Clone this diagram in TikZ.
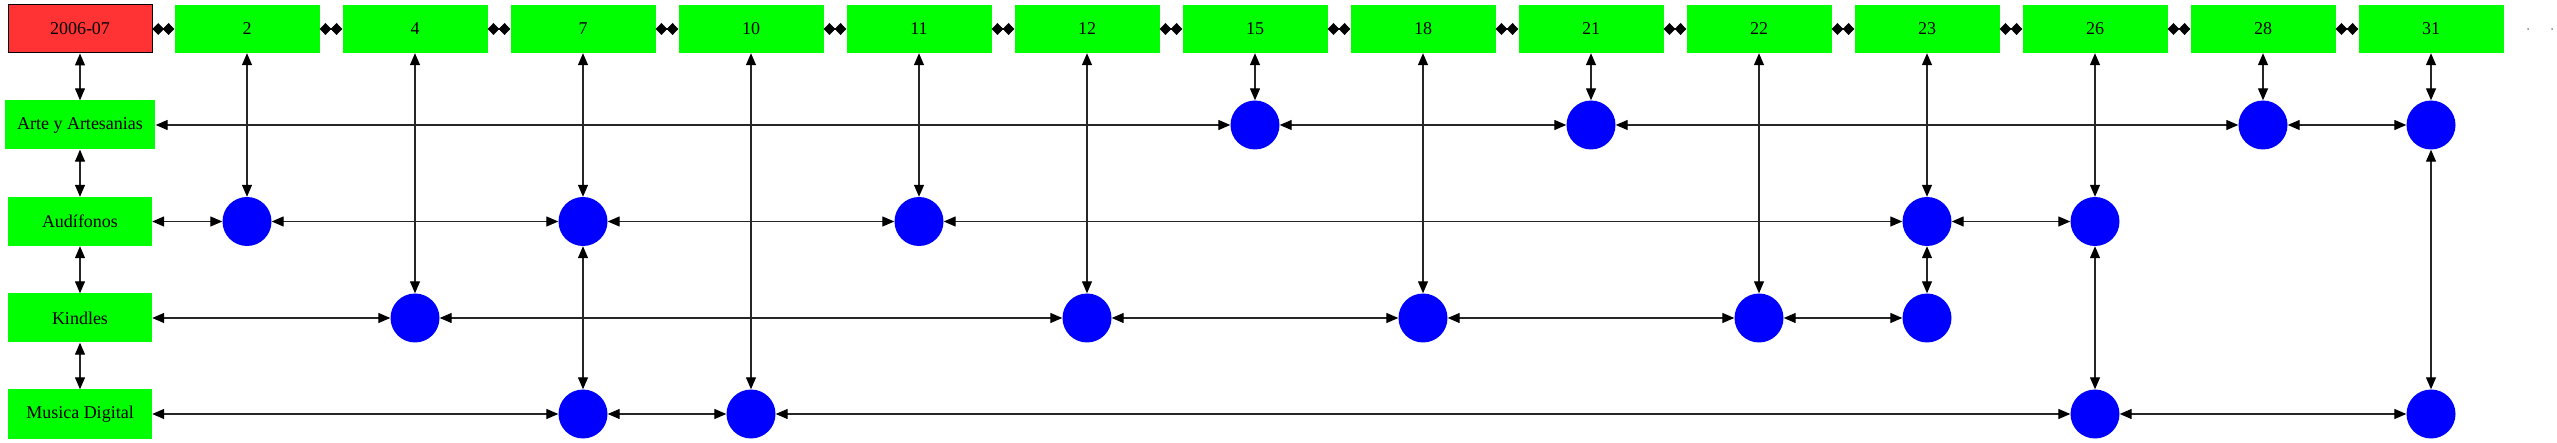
\documentclass[tikz,border=0pt]{standalone}
\usepackage{fontspec}
\setmainfont{Liberation Serif}
\usetikzlibrary{arrows.meta}

\tikzset{
  hdr/.style={fill=green, minimum width=145pt, minimum height=48pt, inner sep=0pt},
  datebox/.style={fill=red!80!white, draw=black, line width=1pt, minimum width=144pt, minimum height=48pt, inner sep=0pt},
  cat/.style={fill=green, minimum width=144pt, minimum height=49pt, inner xsep=12.5pt, inner ysep=0pt},
  dot/.style={circle, fill=blue, minimum size=49pt, inner sep=0pt},
  link/.style={line width=1.3pt, black!85, {Triangle[length=12pt,width=10pt,black]}-{Triangle[length=12pt,width=10pt,black]}},
  chain/.style={line width=1.3pt, black!85, {Diamond[length=11.5pt,width=12pt,black]}-{Diamond[length=11.5pt,width=12pt,black]}}
}

\begin{document}
\begin{tikzpicture}[x=1pt, y=-1pt, font=\fontsize{18}{20}\selectfont]
				% Рамка рисунка
				\useasboundingbox (0,0) rectangle (2557,443);
				
				% Верхняя строка
				\node[datebox] (d) at (80,29) {2006-07};
				\node[hdr] (h2) at (247,29) {2};
				\node[hdr] (h4) at (415,29) {4};
				\node[hdr] (h7) at (583,29) {7};
				\node[hdr] (h10) at (751,29) {10};
				\node[hdr] (h11) at (919,29) {11};
				\node[hdr] (h12) at (1087,29) {12};
				\node[hdr] (h15) at (1255,29) {15};
				\node[hdr] (h18) at (1423,29) {18};
				\node[hdr] (h21) at (1591,29) {21};
				\node[hdr] (h22) at (1759,29) {22};
				\node[hdr] (h23) at (1927,29) {23};
				\node[hdr] (h26) at (2095,29) {26};
				\node[hdr] (h28) at (2263,29) {28};
				\node[hdr] (h31) at (2431,29) {31};
				\fill[gray] (2528,29) circle (1pt) (2552,29) circle (1pt);
				
				% Категории слева
				\node[cat] (art) at (80,125) {Arte y Artesanias};
				\node[cat] (aud) at (80,221.5) {Audífonos};
				\node[cat] (kin) at (80,318) {Kindles};
				\node[cat] (mus) at (80,414) {Musica Digital};
				
				% Точки
				\node[dot] (art15) at (1255,125) {};
				\node[dot] (art21) at (1591,125) {};
				\node[dot] (art28) at (2263,125) {};
				\node[dot] (art31) at (2431,125) {};
				\node[dot] (aud2) at (247,221.5) {};
				\node[dot] (aud7) at (583,221.5) {};
				\node[dot] (aud11) at (919,221.5) {};
				\node[dot] (aud23) at (1927,221.5) {};
				\node[dot] (aud26) at (2095,221.5) {};
				\node[dot] (kin4) at (415,318) {};
				\node[dot] (kin12) at (1087,318) {};
				\node[dot] (kin18) at (1423,318) {};
				\node[dot] (kin22) at (1759,318) {};
				\node[dot] (kin23) at (1927,318) {};
				\node[dot] (mus7) at (583,414) {};
				\node[dot] (mus10) at (751,414) {};
				\node[dot] (mus26) at (2095,414) {};
				\node[dot] (mus31) at (2431,414) {};
				
				% Цепочка дат
				\foreach \a/\b in {d/h2, h2/h4, h4/h7, h7/h10, h10/h11, h11/h12, h12/h15, h15/h18, h18/h21, h21/h22, h22/h23, h23/h26, h26/h28, h28/h31}
					\draw[chain] (\a) -- (\b);
				
				% Цепочка категорий
				\foreach \a/\b in {d/art, art/aud, aud/kin, kin/mus}
					\draw[link] (\a) -- (\b);
				
				% Строки
				\foreach \a/\b in {art/art15, art15/art21, art21/art28, art28/art31,
					aud/aud2, aud2/aud7, aud7/aud11, aud11/aud23, aud23/aud26,
					kin/kin4, kin4/kin12, kin12/kin18, kin18/kin22, kin22/kin23,
					mus/mus7, mus7/mus10, mus10/mus26, mus26/mus31}
					\draw[link] (\a) -- (\b);
				
				% Столбцы
				\foreach \a/\b in {h2/aud2, h4/kin4, h7/aud7, aud7/mus7, h10/mus10, h11/aud11,
					h12/kin12, h15/art15, h18/kin18, h21/art21, h22/kin22, h23/aud23, aud23/kin23,
					h26/aud26, aud26/mus26, h28/art28, h31/art31, art31/mus31}
					\draw[link] (\a) -- (\b);
			\end{tikzpicture}
\end{document}
